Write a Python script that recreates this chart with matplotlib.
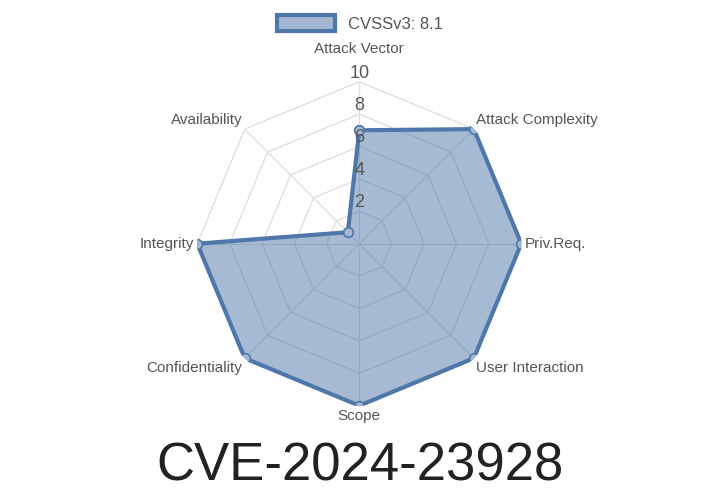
import numpy as np
import matplotlib.pyplot as plt
from matplotlib.patches import Patch

plt.rcParams['font.family'] = ['Liberation Sans', 'DejaVu Sans']

labels = ["Attack Vector", "Attack Complexity", "Priv.Req.", "User Interaction",
          "Scope", "Confidentiality", "Integrity", "Availability"]
values = [7, 10, 10, 10, 10, 10, 10, 1]
rings = [2, 4, 6, 8, 10]
title = "CVE-2024-23928"
series_name = "CVSSv3: 8.1"

line_c = "#4f77aa"
fill_c = "#4f77aa"

fig = plt.figure(figsize=(7.2, 5.04), dpi=100)
ax = fig.add_axes([0.274, 0.195, 0.45, 0.643], polar=True)
ax.set_theta_zero_location("N")
ax.set_theta_direction(-1)
ax.set_ylim(0, 10)
ax.grid(False)
ax.spines["polar"].set_visible(False)
ax.set_xticks([])
ax.set_yticks([])

n = len(labels)
theta = np.linspace(0, 2 * np.pi, n, endpoint=False)
closed = np.append(theta, theta[0])

# polygon grid
for r in rings:
    ax.plot(closed, [r] * (n + 1), color="#dddddd", lw=0.9, zorder=1)
for t in theta:
    ax.plot([t, t], [0, 10], color="#dddddd", lw=0.9, zorder=1)

v = np.append(values, values[0])
ax.fill(closed, v, color=fill_c, alpha=0.5, zorder=2)
ax.plot(closed, v, color=line_c, lw=3, zorder=3)
ax.plot(theta, values, "o", ms=7, mfc="#a4b8d4", mec=line_c, mew=1.2, zorder=4)

for r in rings:
    ax.text(0, r, str(r), ha="center", va="bottom", fontsize=13, color="#555555", zorder=5)

for t, lab in zip(theta, labels):
    s, c = np.sin(t), np.cos(t)
    ha = "center" if abs(s) < 0.1 else ("left" if s > 0 else "right")
    va = "center" if abs(c) < 0.1 else ("bottom" if c > 0 else "top")
    rr = 11.6 if abs(s) < 0.1 and c > 0 else 10.2
    ax.text(t, rr, lab, ha=ha, va=va, fontsize=11, color="#555555")

fig.legend(handles=[Patch(facecolor="#a4b8d4", edgecolor=line_c, lw=3, label=series_name)],
           loc="upper center", bbox_to_anchor=(0.5, 1.0), frameon=False,
           fontsize=12, labelcolor="#555555", handlelength=3.5, handleheight=1.1)

fig.text(0.5, 0.075, title, ha="center", va="center", fontsize=38, color="#222222")

fig.savefig("out.png", dpi=100)
